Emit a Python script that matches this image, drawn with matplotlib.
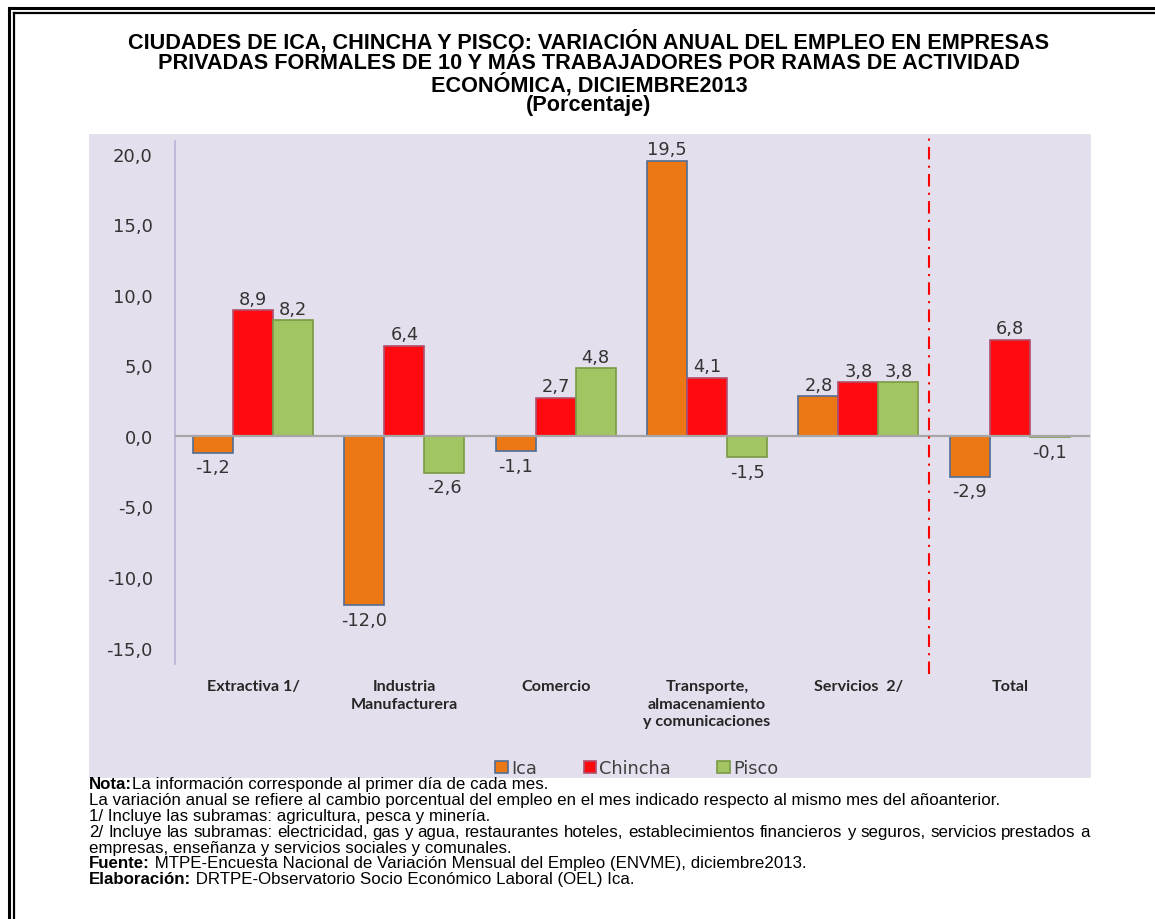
import matplotlib
matplotlib.use("Agg")
import matplotlib.pyplot as plt
import numpy as np
from matplotlib.patches import Rectangle, Patch
from matplotlib.lines import Line2D

categories = ["Extractiva 1/", "Industria\nManufacturera", "Comercio",
              "Transporte,\nalmacenamiento\ny comunicaciones", "Servicios  2/", "Total"]
series_names = ["Ica", "Chincha", "Pisco"]
ica = [-1.2, -12.0, -1.1, 19.5, 2.8, -2.9]
chincha = [8.9, 6.4, 2.7, 4.1, 3.8, 6.8]
pisco = [8.2, -2.6, 4.8, -1.5, 3.8, -0.1]
yticks = [-15, -10, -5, 0, 5, 10, 15, 20]

face_colors = ["#EC7815", "#FF0A0F", "#A3C463"]
edge_colors = ["#4F6E96", "#B0506E", "#7A9A45"]

W, H = 1155, 920
fig = plt.figure(figsize=(W / 100, H / 100), dpi=100)
fig.patch.set_facecolor("white")

# lavender plot background
bg = Rectangle((89 / W, 1 - 779 / H), (1091 - 89) / W, (779 - 135) / H,
               transform=fig.transFigure, facecolor="#E4DFEC",
               edgecolor="none", zorder=-10)
fig.add_artist(bg)
# double border (left and top)
fig.add_artist(Line2D([9 / W, 9 / W], [0, 1 - 9 / H], transform=fig.transFigure, color="black", lw=2.2))
fig.add_artist(Line2D([14 / W, 14 / W], [0, 1 - 14 / H], transform=fig.transFigure, color="black", lw=1.6))
fig.add_artist(Line2D([9 / W, 1], [1 - 9 / H, 1 - 9 / H], transform=fig.transFigure, color="black", lw=2.2))
fig.add_artist(Line2D([14 / W, 1], [1 - 14 / H, 1 - 14 / H], transform=fig.transFigure, color="black", lw=1.6))

# title
title_lines = ["CIUDADES DE ICA, CHINCHA Y PISCO: VARIACIÓN ANUAL DEL EMPLEO EN EMPRESAS",
               "PRIVADAS FORMALES DE 10 Y MÁS TRABAJADORES POR RAMAS DE ACTIVIDAD",
               "ECONÓMICA, DICIEMBRE2013",
               "(Porcentaje)"]
for i, t in enumerate(title_lines):
    fig.text(589 / W, 1 - (42 + i * 21.3) / H, t, ha="center", va="center",
             fontsize=15.6, fontweight="bold", family="Liberation Sans", color="black")

ax_left, ax_right = 175 / W, 1090 / W
ax_bottom, ax_top = 1 - 665 / H, 1 - 141.7 / H
ax = fig.add_axes([ax_left, ax_bottom, ax_right - ax_left, ax_top - ax_bottom])
ax.set_facecolor("none")
ax.set_xlim(-0.515, 5.53)
ax.set_ylim(-16.17, 20.94)

x = np.arange(len(categories))
bw = 0.264
for k, vals in enumerate([ica, chincha, pisco]):
    xs = x + (k - 1) * bw
    ax.bar(xs, vals, width=bw, color=face_colors[k], edgecolor=edge_colors[k],
           linewidth=1.2, zorder=3, label=series_names[k])
    for xi, v in zip(xs, vals):
        s = f"{v:.1f}".replace(".", ",")
        if v >= 0:
            ax.annotate(s, (xi, v), xytext=(0, 2), textcoords="offset points",
                        ha="center", va="bottom", fontsize=12.8, color="#333333",
                        family="DejaVu Sans")
        else:
            ax.annotate(s, (xi, v), xytext=(0, -4), textcoords="offset points",
                        ha="center", va="top", fontsize=12.8, color="#333333",
                        family="DejaVu Sans")

ax.axhline(0, color="#A6A6A6", lw=1.6, zorder=4)
ax.axvline(4.465, ymin=-0.02, ymax=1.015, color="#FF0000", lw=1.5,
           linestyle=(0, (6, 3, 1, 3)), clip_on=False, zorder=5)

for s in ["top", "right", "bottom"]:
    ax.spines[s].set_visible(False)
ax.spines["left"].set_color("#BDB0D6")
ax.spines["left"].set_linewidth(1.2)
ax.set_yticks(yticks)
ax.set_yticklabels([f"{v:.1f}".replace(".", ",") for v in yticks],
                   fontsize=13, color="#333333", family="DejaVu Sans")
ax.tick_params(axis="y", length=0, pad=16)
ax.set_xticks(x)
ax.set_xticklabels(categories, fontsize=11.6, fontweight="bold", color="#262626",
                   family="Lato", linespacing=1.3)
ax.tick_params(axis="x", length=0, pad=11)

# legend
handles = [Patch(facecolor=face_colors[k], edgecolor=edge_colors[k], linewidth=1.2,
                 label=series_names[k]) for k in range(3)]
fig.legend(handles=handles, loc="center", bbox_to_anchor=(637 / W, 1 - 769 / H),
           ncol=3, frameon=False, handlelength=0.7, handleheight=0.7,
           handletextpad=0.2, columnspacing=2.6, labelcolor="#404040",
           prop={"family": "DejaVu Sans", "size": 12.8})

# notes
notes = [
    [("Nota:", "bold"), ("La información corresponde al primer día de cada mes.", "normal")],
    [("La variación anual se refiere al cambio porcentual del empleo en el mes indicado respecto al mismo mes del añoanterior.", "normal")],
    [("1/ Incluye las subramas: agricultura, pesca y minería.", "normal")],
    [("2/ Incluye las subramas: electricidad, gas y agua, restaurantes hoteles, establecimientos financieros y seguros, servicios prestados a", "justify")],
    [("empresas, enseñanza y servicios sociales y comunales.", "normal")],
    [("Fuente:", "bold"), (" MTPE-Encuesta Nacional de Variación Mensual del Empleo (ENVME), diciembre2013.", "normal")],
    [("Elaboración:", "bold"), (" DRTPE-Observatorio Socio Económico Laboral (OEL) Ica.", "normal")],
]
note_fs = 12.2
fig.canvas.draw()
renderer = fig.canvas.get_renderer()
y0 = 785
for i, parts in enumerate(notes):
    ypos = 1 - (y0 + i * 15.8) / H
    if parts[0][1] == "justify":
        words = parts[0][0].split(" ")
        arts = [fig.text(0, ypos, w, ha="left", va="center", fontsize=note_fs,
                         family="Liberation Sans", color="black") for w in words]
        widths = [a.get_window_extent(renderer=renderer).width for a in arts]
        gap = ((1090 - 89) - sum(widths)) / (len(words) - 1)
        xpix = 89
        for a, wdt in zip(arts, widths):
            a.set_x(xpix / W)
            xpix += wdt + gap
        continue
    xpix = 89
    for txt, wt in parts:
        t = fig.text(xpix / W, ypos, txt, ha="left", va="center", fontsize=note_fs,
                     fontweight=wt, family="Liberation Sans", color="black")
        bb = t.get_window_extent(renderer=renderer)
        xpix += bb.width

fig.savefig("out.png", dpi=100, facecolor="white")
